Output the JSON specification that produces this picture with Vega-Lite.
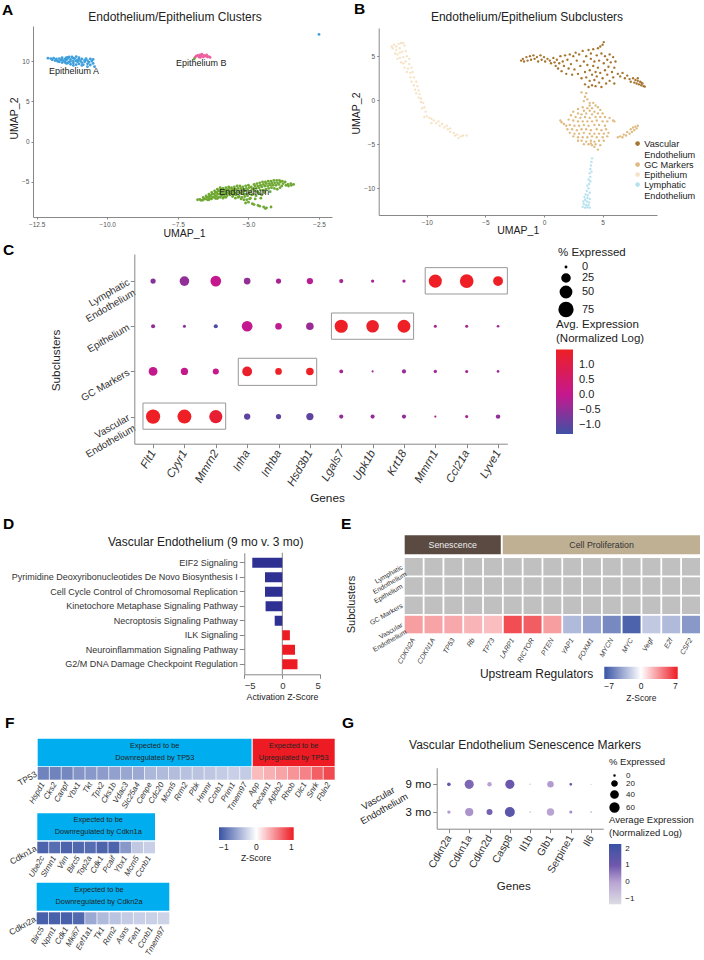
{"$schema":"https://vega.github.io/schema/vega-lite/v6.json","width":704,"height":960,"padding":0,"autosize":{"type":"none"},"background":"white",
"config":{"font":"Liberation Sans","view":{"stroke":null},"axis":{"grid":false,"labelLimit":400,"titleFontWeight":"normal","titleColor":"#222","labelColor":"#333","domainColor":"#888","tickColor":"#888","titleBaseline":"middle","titleAlign":"center","labelOverlap":false},"legend":{"titleFontWeight":"normal","titleColor":"#222","labelColor":"#222","labelLimit":300,"labelOverlap":false}},
"resolve":{"scale":{"x":"independent","y":"independent","color":"independent","size":"independent"}},
"layer":[
{"encoding":{"x":{"field":"x","type":"quantitative","scale":{"domain":[-12.63,-2.04],"range":[33,332],"nice":false,"zero":false},"axis":{"orient":"bottom","offset":-743,"values":[-12.5,-10,-7.5,-5,-2.5],"format":".1f","title":"UMAP_1","titleX":184,"titleY":16,"titleFontSize":10.5,"labelFontSize":6.5,"labelColor":"#555","tickSize":2,"labelPadding":2}},"y":{"field":"y","type":"quantitative","scale":{"domain":[-9.34,14.34],"range":[217,26],"nice":false,"zero":false},"axis":{"orient":"left","offset":-33,"values":[-5,0,5,10],"title":"UMAP_2","titleX":-19,"titleY":118,"titleFontSize":10.5,"labelFontSize":6.5,"labelColor":"#555","tickSize":2,"labelPadding":2}}},
"layer":[
{"data":{"values":[
{"x":-12.1,"y":10.35,"c":"A"},{"x":-12.0,"y":10.3,"c":"A"},{"x":-11.95,"y":10.15,"c":"A"},{"x":-11.9,"y":10.35,"c":"A"},{"x":-11.85,"y":10.05,"c":"A"},{"x":-11.8,"y":10.25,"c":"A"},{"x":-11.75,"y":9.95,"c":"A"},{"x":-11.7,"y":10.3,"c":"A"},{"x":-11.65,"y":10.1,"c":"A"},{"x":-11.6,"y":9.8,"c":"A"},{"x":-11.6,"y":10.4,"c":"A"},{"x":-11.55,"y":10.0,"c":"A"},{"x":-11.5,"y":10.25,"c":"A"},{"x":-11.45,"y":9.7,"c":"A"},{"x":-11.45,"y":10.1,"c":"A"},{"x":-11.4,"y":10.45,"c":"A"},{"x":-11.35,"y":9.9,"c":"A"},{"x":-11.3,"y":10.2,"c":"A"},{"x":-11.3,"y":9.6,"c":"A"},{"x":-11.25,"y":10.5,"c":"A"},{"x":-11.2,"y":10.0,"c":"A"},{"x":-11.2,"y":9.75,"c":"A"},{"x":-11.15,"y":10.3,"c":"A"},{"x":-11.1,"y":9.55,"c":"A"},{"x":-11.1,"y":10.55,"c":"A"},{"x":-11.05,"y":9.9,"c":"A"},{"x":-11.05,"y":10.15,"c":"A"},{"x":-11.0,"y":10.4,"c":"A"},{"x":-11.0,"y":9.65,"c":"A"},{"x":-10.95,"y":10.0,"c":"A"},{"x":-10.9,"y":9.8,"c":"A"},{"x":-10.9,"y":10.25,"c":"A"},{"x":-10.85,"y":9.55,"c":"A"},{"x":-10.8,"y":10.1,"c":"A"},{"x":-10.8,"y":9.9,"c":"A"},{"x":-10.75,"y":10.3,"c":"A"},{"x":-10.7,"y":9.65,"c":"A"},{"x":-10.7,"y":10.05,"c":"A"},{"x":-10.65,"y":9.85,"c":"A"},{"x":-10.6,"y":10.25,"c":"A"},{"x":-10.6,"y":9.5,"c":"A"},{"x":-10.55,"y":10.0,"c":"A"},{"x":-10.5,"y":9.7,"c":"A"},{"x":-10.5,"y":10.2,"c":"A"},{"x":-10.45,"y":9.3,"c":"A"},{"x":-10.7,"y":9.3,"c":"A"},{"x":-10.9,"y":9.45,"c":"A"},{"x":-11.2,"y":9.45,"c":"A"},{"x":-11.4,"y":10.3,"c":"A"},{"x":-11.6,"y":10.2,"c":"A"},{"x":-11.7,"y":9.9,"c":"A"},{"x":-11.5,"y":9.85,"c":"A"},{"x":-11.3,"y":9.95,"c":"A"},{"x":-11.2,"y":10.35,"c":"A"},{"x":-11.4,"y":9.75,"c":"A"},{"x":-11.1,"y":10.0,"c":"A"},{"x":-11.0,"y":10.2,"c":"A"},{"x":-11.45,"y":10.4,"c":"A"},{"x":-11.8,"y":10.1,"c":"A"},{"x":-11.35,"y":10.5,"c":"A"},{"x":-2.5,"y":13.3,"c":"A"},
{"x":-6.89,"y":10.45,"c":"B"},{"x":-6.85,"y":10.6,"c":"B"},{"x":-6.8,"y":10.7,"c":"B"},{"x":-6.75,"y":10.5,"c":"B"},{"x":-6.72,"y":10.75,"c":"B"},{"x":-6.68,"y":10.6,"c":"B"},{"x":-6.65,"y":10.85,"c":"B"},{"x":-6.6,"y":10.5,"c":"B"},{"x":-6.58,"y":10.7,"c":"B"},{"x":-6.52,"y":10.6,"c":"B"},{"x":-6.48,"y":10.75,"c":"B"},{"x":-6.45,"y":10.5,"c":"B"},{"x":-6.4,"y":10.55,"c":"B"},{"x":-6.36,"y":10.45,"c":"B"},{"x":-6.7,"y":10.45,"c":"B"},{"x":-6.92,"y":10.25,"c":"E"},
{"x":-6.8,"y":-7.2,"c":"E"},{"x":-6.72,"y":-7.15,"c":"E"},{"x":-6.68,"y":-7.27,"c":"E"},{"x":-6.6,"y":-6.92,"c":"E"},{"x":-6.57,"y":-7.1,"c":"E"},{"x":-6.62,"y":-7.25,"c":"E"},{"x":-6.5,"y":-6.72,"c":"E"},{"x":-6.47,"y":-6.9,"c":"E"},{"x":-6.52,"y":-7.1,"c":"E"},{"x":-6.45,"y":-7.2,"c":"E"},{"x":-6.4,"y":-6.5,"c":"E"},{"x":-6.38,"y":-6.7,"c":"E"},{"x":-6.42,"y":-6.9,"c":"E"},{"x":-6.36,"y":-7.05,"c":"E"},{"x":-6.4,"y":-7.2,"c":"E"},{"x":-6.3,"y":-6.3,"c":"E"},{"x":-6.28,"y":-6.5,"c":"E"},{"x":-6.33,"y":-6.7,"c":"E"},{"x":-6.27,"y":-6.9,"c":"E"},{"x":-6.31,"y":-7.1,"c":"E"},{"x":-6.2,"y":-6.1,"c":"E"},{"x":-6.17,"y":-6.3,"c":"E"},{"x":-6.22,"y":-6.5,"c":"E"},{"x":-6.18,"y":-6.7,"c":"E"},{"x":-6.23,"y":-6.9,"c":"E"},{"x":-6.16,"y":-7.05,"c":"E"},{"x":-6.1,"y":-5.9,"c":"E"},{"x":-6.07,"y":-6.1,"c":"E"},{"x":-6.12,"y":-6.3,"c":"E"},{"x":-6.08,"y":-6.5,"c":"E"},{"x":-6.13,"y":-6.7,"c":"E"},{"x":-6.06,"y":-6.9,"c":"E"},{"x":-6.1,"y":-7.05,"c":"E"},{"x":-6.0,"y":-5.7,"c":"E"},{"x":-5.97,"y":-5.9,"c":"E"},{"x":-6.02,"y":-6.1,"c":"E"},{"x":-5.98,"y":-6.3,"c":"E"},{"x":-6.03,"y":-6.5,"c":"E"},{"x":-5.96,"y":-6.7,"c":"E"},{"x":-6.0,"y":-6.9,"c":"E"},{"x":-5.9,"y":-5.8,"c":"E"},{"x":-5.87,"y":-6.0,"c":"E"},{"x":-5.92,"y":-6.2,"c":"E"},{"x":-5.88,"y":-6.4,"c":"E"},{"x":-5.93,"y":-6.6,"c":"E"},{"x":-5.86,"y":-6.8,"c":"E"},{"x":-5.9,"y":-7.0,"c":"E"},{"x":-5.8,"y":-5.7,"c":"E"},{"x":-5.77,"y":-5.9,"c":"E"},{"x":-5.82,"y":-6.1,"c":"E"},{"x":-5.78,"y":-6.3,"c":"E"},{"x":-5.83,"y":-6.5,"c":"E"},{"x":-5.76,"y":-6.7,"c":"E"},{"x":-5.8,"y":-6.9,"c":"E"},{"x":-5.7,"y":-5.6,"c":"E"},{"x":-5.67,"y":-5.8,"c":"E"},{"x":-5.72,"y":-6.0,"c":"E"},{"x":-5.68,"y":-6.2,"c":"E"},{"x":-5.73,"y":-6.4,"c":"E"},{"x":-5.66,"y":-6.6,"c":"E"},{"x":-5.6,"y":-5.7,"c":"E"},{"x":-5.57,"y":-5.9,"c":"E"},{"x":-5.62,"y":-6.1,"c":"E"},{"x":-5.58,"y":-6.3,"c":"E"},{"x":-5.63,"y":-6.5,"c":"E"},{"x":-5.56,"y":-6.8,"c":"E"},{"x":-5.5,"y":-5.6,"c":"E"},{"x":-5.47,"y":-5.85,"c":"E"},{"x":-5.52,"y":-6.1,"c":"E"},{"x":-5.48,"y":-6.35,"c":"E"},{"x":-5.53,"y":-6.6,"c":"E"},{"x":-5.46,"y":-7.0,"c":"E"},{"x":-5.4,"y":-5.5,"c":"E"},{"x":-5.37,"y":-5.8,"c":"E"},{"x":-5.42,"y":-6.0,"c":"E"},{"x":-5.38,"y":-6.3,"c":"E"},{"x":-5.43,"y":-6.6,"c":"E"},{"x":-5.36,"y":-6.9,"c":"E"},{"x":-5.3,"y":-5.5,"c":"E"},{"x":-5.27,"y":-5.8,"c":"E"},{"x":-5.32,"y":-6.1,"c":"E"},{"x":-5.28,"y":-6.4,"c":"E"},{"x":-5.33,"y":-6.8,"c":"E"},{"x":-5.26,"y":-7.1,"c":"E"},{"x":-5.2,"y":-5.6,"c":"E"},{"x":-5.17,"y":-5.9,"c":"E"},{"x":-5.22,"y":-6.2,"c":"E"},{"x":-5.18,"y":-6.5,"c":"E"},{"x":-5.23,"y":-6.9,"c":"E"},{"x":-5.16,"y":-7.2,"c":"E"},{"x":-5.1,"y":-5.5,"c":"E"},{"x":-5.07,"y":-5.8,"c":"E"},{"x":-5.12,"y":-6.1,"c":"E"},{"x":-5.08,"y":-6.5,"c":"E"},{"x":-5.13,"y":-6.8,"c":"E"},{"x":-5.06,"y":-7.2,"c":"E"},{"x":-5.1,"y":-7.6,"c":"E"},{"x":-5.0,"y":-5.4,"c":"E"},{"x":-4.97,"y":-5.7,"c":"E"},{"x":-5.02,"y":-6.0,"c":"E"},{"x":-4.98,"y":-6.4,"c":"E"},{"x":-5.03,"y":-6.7,"c":"E"},{"x":-4.96,"y":-7.1,"c":"E"},{"x":-5.0,"y":-7.5,"c":"E"},{"x":-4.9,"y":-5.6,"c":"E"},{"x":-4.87,"y":-5.9,"c":"E"},{"x":-4.92,"y":-6.2,"c":"E"},{"x":-4.88,"y":-6.6,"c":"E"},{"x":-4.93,"y":-7.0,"c":"E"},{"x":-4.86,"y":-7.7,"c":"E"},{"x":-4.8,"y":-5.3,"c":"E"},{"x":-4.77,"y":-5.5,"c":"E"},{"x":-4.82,"y":-5.8,"c":"E"},{"x":-4.78,"y":-6.1,"c":"E"},{"x":-4.83,"y":-6.5,"c":"E"},{"x":-4.76,"y":-7.1,"c":"E"},{"x":-4.8,"y":-7.8,"c":"E"},{"x":-4.7,"y":-5.2,"c":"E"},{"x":-4.67,"y":-5.5,"c":"E"},{"x":-4.72,"y":-5.8,"c":"E"},{"x":-4.68,"y":-6.2,"c":"E"},{"x":-4.73,"y":-6.7,"c":"E"},{"x":-4.66,"y":-7.9,"c":"E"},{"x":-4.6,"y":-5.1,"c":"E"},{"x":-4.57,"y":-5.4,"c":"E"},{"x":-4.62,"y":-5.7,"c":"E"},{"x":-4.58,"y":-6.0,"c":"E"},{"x":-4.63,"y":-6.4,"c":"E"},{"x":-4.56,"y":-7.0,"c":"E"},{"x":-4.6,"y":-8.0,"c":"E"},{"x":-4.5,"y":-5.0,"c":"E"},{"x":-4.47,"y":-5.3,"c":"E"},{"x":-4.52,"y":-5.6,"c":"E"},{"x":-4.48,"y":-6.0,"c":"E"},{"x":-4.53,"y":-6.6,"c":"E"},{"x":-4.46,"y":-8.1,"c":"E"},{"x":-4.4,"y":-5.0,"c":"E"},{"x":-4.37,"y":-5.2,"c":"E"},{"x":-4.42,"y":-5.5,"c":"E"},{"x":-4.38,"y":-5.9,"c":"E"},{"x":-4.43,"y":-6.3,"c":"E"},{"x":-4.36,"y":-8.2,"c":"E"},{"x":-4.4,"y":-8.3,"c":"E"},{"x":-4.3,"y":-4.9,"c":"E"},{"x":-4.27,"y":-5.2,"c":"E"},{"x":-4.32,"y":-5.5,"c":"E"},{"x":-4.28,"y":-5.8,"c":"E"},{"x":-4.2,"y":-4.9,"c":"E"},{"x":-4.17,"y":-5.15,"c":"E"},{"x":-4.22,"y":-5.4,"c":"E"},{"x":-4.18,"y":-5.7,"c":"E"},{"x":-4.23,"y":-6.2,"c":"E"},{"x":-4.2,"y":-8.1,"c":"E"},{"x":-4.1,"y":-4.8,"c":"E"},{"x":-4.07,"y":-5.1,"c":"E"},{"x":-4.12,"y":-5.4,"c":"E"},{"x":-4.08,"y":-5.8,"c":"E"},{"x":-4.0,"y":-4.8,"c":"E"},{"x":-3.97,"y":-5.1,"c":"E"},{"x":-4.02,"y":-5.4,"c":"E"},{"x":-3.98,"y":-5.9,"c":"E"},{"x":-3.9,"y":-4.8,"c":"E"},{"x":-3.87,"y":-5.0,"c":"E"},{"x":-3.92,"y":-5.3,"c":"E"},{"x":-3.88,"y":-5.7,"c":"E"},{"x":-3.8,"y":-4.9,"c":"E"},{"x":-3.77,"y":-5.2,"c":"E"},{"x":-3.82,"y":-5.5,"c":"E"},{"x":-3.7,"y":-5.0,"c":"E"},{"x":-3.67,"y":-5.4,"c":"E"},{"x":-3.6,"y":-5.3,"c":"E"},{"x":-3.58,"y":-5.5,"c":"E"},{"x":-3.5,"y":-5.2,"c":"E"},{"x":-3.48,"y":-5.4,"c":"E"},{"x":-3.4,"y":-5.3,"c":"E"}
]},"mark":{"type":"circle","size":8,"opacity":1},"encoding":{"color":{"field":"c","type":"nominal","scale":{"domain":["A","B","E"],"range":["#3fa0dc","#ee5f9f","#6fa832"]},"legend":null}}},
{"data":{"values":[{"t":"Epithelium A","x":-11.18,"y":8.76},{"t":"Epithelium B","x":-6.67,"y":9.79},{"t":"Endothelium","x":-5.15,"y":-6.2}]},"mark":{"type":"text","fontSize":9,"color":"#222"},"encoding":{"text":{"field":"t","type":"nominal"}}},
{"data":{"values":[{"t":"Endothelium/Epithelium Clusters","x":-7.6,"y":15.45}]},"mark":{"type":"text","fontSize":12,"color":"#222"},"encoding":{"text":{"field":"t","type":"nominal"}}},
{"data":{"values":[{"t":"A","x":-13.73,"y":16.3}]},"mark":{"type":"text","fontSize":15.5,"fontWeight":"bold","align":"left","color":"#000"},"encoding":{"text":{"field":"t","type":"nominal"}}}
]},
{"encoding":{"x":{"field":"x","type":"quantitative","scale":{"domain":[-14.1,9.64],"range":[378.7,657],"nice":false,"zero":false},"axis":{"orient":"bottom","offset":-745,"values":[-10,-5,0,5],"title":"UMAP_1","titleX":517.7,"titleY":15.7,"titleFontSize":10.5,"labelFontSize":6.5,"labelColor":"#555","tickSize":2,"labelPadding":2}},"y":{"field":"y","type":"quantitative","scale":{"domain":[-13.03,8.2],"range":[215,28],"nice":false,"zero":false},"axis":{"orient":"left","offset":-378.7,"values":[-10,-5,0,5],"title":"UMAP_2","titleX":-22.7,"titleY":113,"titleFontSize":10.5,"labelFontSize":6.5,"labelColor":"#555","tickSize":2,"labelPadding":2}}},
"layer":[
{"data":{"values":[
{"x":-1.95,"y":4.5,"c":"V"},{"x":-1.8,"y":4.7,"c":"V"},{"x":-1.7,"y":4.4,"c":"V"},{"x":-1.5,"y":4.9,"c":"V"},{"x":-1.4,"y":4.5,"c":"V"},{"x":-1.2,"y":5.0,"c":"V"},{"x":-1.1,"y":4.6,"c":"V"},{"x":-0.9,"y":5.1,"c":"V"},{"x":-0.8,"y":4.7,"c":"V"},{"x":-0.6,"y":4.9,"c":"V"},{"x":-0.5,"y":4.4,"c":"V"},{"x":-0.3,"y":5.1,"c":"V"},{"x":-0.2,"y":4.6,"c":"V"},{"x":0,"y":4.9,"c":"V"},{"x":0.1,"y":4.4,"c":"V"},{"x":0.3,"y":4.7,"c":"V"},{"x":0.5,"y":4.5,"c":"V"},{"x":0.6,"y":4.2,"c":"V"},{"x":0.8,"y":4.8,"c":"V"},{"x":0.9,"y":4.3,"c":"V"},{"x":1.0,"y":3.9,"c":"V"},{"x":1.1,"y":4.6,"c":"V"},{"x":1.2,"y":3.6,"c":"V"},{"x":1.3,"y":4.2,"c":"V"},{"x":1.4,"y":5.0,"c":"V"},{"x":1.5,"y":3.3,"c":"V"},{"x":1.6,"y":4.4,"c":"V"},{"x":1.7,"y":3.9,"c":"V"},{"x":1.8,"y":5.1,"c":"V"},{"x":1.9,"y":3.0,"c":"V"},{"x":2.0,"y":4.6,"c":"V"},{"x":2.1,"y":3.6,"c":"V"},{"x":2.2,"y":5.2,"c":"V"},{"x":2.3,"y":4.1,"c":"V"},{"x":2.4,"y":2.9,"c":"V"},{"x":2.5,"y":5.0,"c":"V"},{"x":2.6,"y":3.5,"c":"V"},{"x":2.7,"y":5.4,"c":"V"},{"x":2.8,"y":4.5,"c":"V"},{"x":2.9,"y":3.0,"c":"V"},{"x":3.0,"y":5.2,"c":"V"},{"x":3.1,"y":3.9,"c":"V"},{"x":3.2,"y":2.5,"c":"V"},{"x":3.3,"y":5.6,"c":"V"},{"x":3.4,"y":4.4,"c":"V"},{"x":3.5,"y":3.2,"c":"V"},{"x":3.5,"y":1.8,"c":"V"},{"x":3.6,"y":5.0,"c":"V"},{"x":3.6,"y":2.6,"c":"V"},{"x":3.7,"y":4.0,"c":"V"},{"x":3.8,"y":5.7,"c":"V"},{"x":3.8,"y":1.5,"c":"V"},{"x":3.9,"y":3.4,"c":"V"},{"x":3.9,"y":2.2,"c":"V"},{"x":4.0,"y":4.7,"c":"V"},{"x":4.0,"y":5.3,"c":"V"},{"x":4.1,"y":1.7,"c":"V"},{"x":4.1,"y":2.9,"c":"V"},{"x":4.2,"y":3.9,"c":"V"},{"x":4.2,"y":5.8,"c":"V"},{"x":4.3,"y":2.3,"c":"V"},{"x":4.3,"y":4.4,"c":"V"},{"x":4.4,"y":3.2,"c":"V"},{"x":4.4,"y":1.6,"c":"V"},{"x":4.5,"y":5.1,"c":"V"},{"x":4.5,"y":2.7,"c":"V"},{"x":4.6,"y":5.9,"c":"V"},{"x":4.6,"y":3.7,"c":"V"},{"x":4.7,"y":4.5,"c":"V"},{"x":4.7,"y":2.0,"c":"V"},{"x":4.8,"y":6.1,"c":"V"},{"x":4.8,"y":3.1,"c":"V"},{"x":4.9,"y":5.3,"c":"V"},{"x":4.9,"y":1.5,"c":"V"},{"x":5.0,"y":6.3,"c":"V"},{"x":5.0,"y":2.5,"c":"V"},{"x":5.1,"y":6.6,"c":"V"},{"x":5.1,"y":4.2,"c":"V"},{"x":5.2,"y":3.4,"c":"V"},{"x":5.2,"y":5.0,"c":"V"},{"x":5.3,"y":1.9,"c":"V"},{"x":5.4,"y":4.6,"c":"V"},{"x":5.4,"y":2.9,"c":"V"},{"x":5.5,"y":3.8,"c":"V"},{"x":5.6,"y":5.2,"c":"V"},{"x":5.6,"y":2.2,"c":"V"},{"x":5.7,"y":4.3,"c":"V"},{"x":5.8,"y":3.2,"c":"V"},{"x":5.9,"y":4.9,"c":"V"},{"x":5.9,"y":2.6,"c":"V"},{"x":6.0,"y":3.7,"c":"V"},{"x":6.0,"y":1.9,"c":"V"},{"x":6.1,"y":4.4,"c":"V"},{"x":6.3,"y":3.0,"c":"V"},{"x":6.5,"y":2.7,"c":"V"},{"x":6.7,"y":3.1,"c":"V"},{"x":6.9,"y":2.5,"c":"V"},{"x":7.1,"y":2.8,"c":"V"},{"x":7.3,"y":2.4,"c":"V"},{"x":7.4,"y":2.1,"c":"V"},{"x":7.6,"y":2.5,"c":"V"},{"x":7.7,"y":2.0,"c":"V"},{"x":7.8,"y":2.3,"c":"V"},{"x":7.9,"y":1.9,"c":"V"},{"x":8.0,"y":2.2,"c":"V"},{"x":8.1,"y":1.8,"c":"V"},{"x":8.2,"y":2.1,"c":"V"},{"x":8.3,"y":1.7,"c":"V"},{"x":8.4,"y":1.9,"c":"V"},{"x":8.5,"y":1.6,"c":"V"},{"x":8.6,"y":1.55,"c":"V"},{"x":8.0,"y":2.5,"c":"V"},{"x":8.3,"y":2.0,"c":"V"},
{"x":3.2,"y":0.9,"c":"G"},{"x":3.6,"y":0.8,"c":"G"},{"x":3.5,"y":0.4,"c":"G"},{"x":3.7,"y":0.1,"c":"G"},{"x":3.4,"y":-0.1,"c":"G"},{"x":3.9,"y":-0.3,"c":"G"},{"x":4.2,"y":-0.3,"c":"G"},{"x":3.9,"y":-0.6,"c":"G"},{"x":4.4,"y":-0.6,"c":"G"},{"x":3.3,"y":-0.8,"c":"G"},{"x":3.7,"y":-0.9,"c":"G"},{"x":4.1,"y":-0.9,"c":"G"},{"x":4.6,"y":-0.8,"c":"G"},{"x":2.9,"y":-1,"c":"G"},{"x":3.4,"y":-1.2,"c":"G"},{"x":3.9,"y":-1.2,"c":"G"},{"x":4.3,"y":-1.3,"c":"G"},{"x":4.8,"y":-1.1,"c":"G"},{"x":2.5,"y":-1.3,"c":"G"},{"x":2.9,"y":-1.5,"c":"G"},{"x":3.2,"y":-1.6,"c":"G"},{"x":3.6,"y":-1.5,"c":"G"},{"x":4.1,"y":-1.6,"c":"G"},{"x":4.6,"y":-1.5,"c":"G"},{"x":5.0,"y":-1.5,"c":"G"},{"x":2.3,"y":-1.7,"c":"G"},{"x":2.7,"y":-1.9,"c":"G"},{"x":3.1,"y":-2.0,"c":"G"},{"x":3.5,"y":-1.9,"c":"G"},{"x":3.9,"y":-2.0,"c":"G"},{"x":4.4,"y":-1.9,"c":"G"},{"x":4.8,"y":-1.9,"c":"G"},{"x":5.2,"y":-1.9,"c":"G"},{"x":5.6,"y":-2.0,"c":"G"},{"x":5.9,"y":-2.3,"c":"G"},{"x":6.0,"y":-2.4,"c":"G"},{"x":1.4,"y":-2.3,"c":"G"},{"x":1.5,"y":-2.5,"c":"G"},{"x":1.7,"y":-2.7,"c":"G"},{"x":2.1,"y":-2.2,"c":"G"},{"x":2.5,"y":-2.3,"c":"G"},{"x":2.9,"y":-2.4,"c":"G"},{"x":3.3,"y":-2.4,"c":"G"},{"x":3.7,"y":-2.4,"c":"G"},{"x":4.1,"y":-2.4,"c":"G"},{"x":4.5,"y":-2.3,"c":"G"},{"x":5.0,"y":-2.4,"c":"G"},{"x":5.4,"y":-2.4,"c":"G"},{"x":1.9,"y":-2.9,"c":"G"},{"x":2.2,"y":-2.8,"c":"G"},{"x":2.6,"y":-2.9,"c":"G"},{"x":3.0,"y":-2.9,"c":"G"},{"x":3.4,"y":-2.8,"c":"G"},{"x":3.8,"y":-2.9,"c":"G"},{"x":4.3,"y":-2.8,"c":"G"},{"x":4.7,"y":-2.8,"c":"G"},{"x":5.2,"y":-2.9,"c":"G"},{"x":2.0,"y":-3.3,"c":"G"},{"x":2.4,"y":-3.3,"c":"G"},{"x":2.8,"y":-3.4,"c":"G"},{"x":3.2,"y":-3.3,"c":"G"},{"x":3.6,"y":-3.3,"c":"G"},{"x":4.0,"y":-3.4,"c":"G"},{"x":4.5,"y":-3.3,"c":"G"},{"x":4.9,"y":-3.4,"c":"G"},{"x":5.3,"y":-3.3,"c":"G"},{"x":2.2,"y":-3.7,"c":"G"},{"x":2.6,"y":-3.8,"c":"G"},{"x":3.0,"y":-3.8,"c":"G"},{"x":3.4,"y":-3.7,"c":"G"},{"x":3.9,"y":-3.8,"c":"G"},{"x":4.3,"y":-3.8,"c":"G"},{"x":4.7,"y":-3.8,"c":"G"},{"x":5.1,"y":-3.8,"c":"G"},{"x":5.5,"y":-3.7,"c":"G"},{"x":2.5,"y":-4.1,"c":"G"},{"x":2.9,"y":-4.2,"c":"G"},{"x":3.3,"y":-4.2,"c":"G"},{"x":3.7,"y":-4.2,"c":"G"},{"x":4.1,"y":-4.1,"c":"G"},{"x":4.5,"y":-4.2,"c":"G"},{"x":5.0,"y":-4.2,"c":"G"},{"x":5.4,"y":-4.1,"c":"G"},{"x":2.9,"y":-4.6,"c":"G"},{"x":3.2,"y":-4.6,"c":"G"},{"x":3.6,"y":-4.7,"c":"G"},{"x":4.0,"y":-4.6,"c":"G"},{"x":4.3,"y":-4.7,"c":"G"},{"x":4.7,"y":-4.6,"c":"G"},{"x":5.1,"y":-4.6,"c":"G"},{"x":3.4,"y":-5.0,"c":"G"},{"x":3.8,"y":-5.0,"c":"G"},{"x":4.1,"y":-5.1,"c":"G"},{"x":4.4,"y":-5.0,"c":"G"},{"x":4.8,"y":-5.1,"c":"G"},{"x":4.3,"y":-5.3,"c":"G"},{"x":4.6,"y":-5.6,"c":"G"},{"x":4.0,"y":-4.9,"c":"G"},{"x":6.3,"y":-4.2,"c":"G"},{"x":6.5,"y":-4.1,"c":"G"},{"x":6.7,"y":-4.2,"c":"G"},{"x":6.8,"y":-3.9,"c":"G"},{"x":7.0,"y":-4.0,"c":"G"},{"x":7.1,"y":-3.6,"c":"G"},{"x":7.3,"y":-3.8,"c":"G"},{"x":7.4,"y":-3.3,"c":"G"},{"x":7.5,"y":-3.6,"c":"G"},{"x":7.7,"y":-3.4,"c":"G"},{"x":7.8,"y":-3.0,"c":"G"},{"x":7.9,"y":-3.2,"c":"G"},{"x":8.0,"y":-2.9,"c":"G"},{"x":7.6,"y":-3.1,"c":"G"},
{"x":-13,"y":6.1,"c":"E"},{"x":-12.9,"y":5.9,"c":"E"},{"x":-12.8,"y":6.3,"c":"E"},{"x":-12.6,"y":5.7,"c":"E"},{"x":-12.6,"y":6.1,"c":"E"},{"x":-12.4,"y":6.4,"c":"E"},{"x":-12.3,"y":5.9,"c":"E"},{"x":-12.2,"y":6.5,"c":"E"},{"x":-12,"y":6.5,"c":"E"},{"x":-11.9,"y":6.2,"c":"E"},{"x":-12.7,"y":5.3,"c":"E"},{"x":-12.5,"y":5.2,"c":"E"},{"x":-12.3,"y":5.4,"c":"E"},{"x":-12.1,"y":5.5,"c":"E"},{"x":-11.8,"y":5.6,"c":"E"},{"x":-12.5,"y":4.7,"c":"E"},{"x":-12.3,"y":4.8,"c":"E"},{"x":-12,"y":4.9,"c":"E"},{"x":-11.7,"y":5.0,"c":"E"},{"x":-11.5,"y":4.7,"c":"E"},{"x":-12.2,"y":4.3,"c":"E"},{"x":-12,"y":4.2,"c":"E"},{"x":-11.8,"y":4.4,"c":"E"},{"x":-11.5,"y":4.1,"c":"E"},{"x":-11.9,"y":3.7,"c":"E"},{"x":-11.6,"y":3.6,"c":"E"},{"x":-11.3,"y":3.7,"c":"E"},{"x":-11.7,"y":3.2,"c":"E"},{"x":-11.4,"y":3.1,"c":"E"},{"x":-11.2,"y":3.2,"c":"E"},{"x":-11.4,"y":2.6,"c":"E"},{"x":-11.1,"y":2.6,"c":"E"},{"x":-11.3,"y":2.1,"c":"E"},{"x":-10.9,"y":2.1,"c":"E"},{"x":-11.1,"y":1.7,"c":"E"},{"x":-10.8,"y":1.6,"c":"E"},{"x":-11,"y":1.2,"c":"E"},{"x":-10.7,"y":1.1,"c":"E"},{"x":-10.6,"y":0.7,"c":"E"},{"x":-10.9,"y":0.8,"c":"E"},{"x":-10.5,"y":0.2,"c":"E"},{"x":-10.7,"y":0.3,"c":"E"},{"x":-10.3,"y":-0.3,"c":"E"},{"x":-10.5,"y":-0.2,"c":"E"},{"x":-10.2,"y":-0.8,"c":"E"},{"x":-10.4,"y":-0.9,"c":"E"},{"x":-10.1,"y":-1.3,"c":"E"},{"x":-10,"y":-1.8,"c":"E"},{"x":-10.2,"y":-1.9,"c":"E"},{"x":-9.8,"y":-2,"c":"E"},{"x":-9.6,"y":-2.1,"c":"E"},{"x":-9.4,"y":-2.3,"c":"E"},{"x":-9.6,"y":-2.6,"c":"E"},{"x":-9.2,"y":-2.6,"c":"E"},{"x":-9,"y":-2.4,"c":"E"},{"x":-8.9,"y":-2.9,"c":"E"},{"x":-8.7,"y":-2.7,"c":"E"},{"x":-8.5,"y":-3.1,"c":"E"},{"x":-8.3,"y":-2.9,"c":"E"},{"x":-8.2,"y":-3.3,"c":"E"},{"x":-8,"y":-3.2,"c":"E"},{"x":-8,"y":-3.6,"c":"E"},{"x":-7.7,"y":-3.7,"c":"E"},{"x":-7.6,"y":-4,"c":"E"},{"x":-7.4,"y":-3.9,"c":"E"},{"x":-7.3,"y":-4.3,"c":"E"},{"x":-7.1,"y":-4.1,"c":"E"},{"x":-6.9,"y":-4,"c":"E"},{"x":-6.6,"y":-4,"c":"E"},
{"x":4.1,"y":-6.6,"c":"L"},{"x":4.05,"y":-7,"c":"L"},{"x":4,"y":-7.4,"c":"L"},{"x":3.95,"y":-7.8,"c":"L"},{"x":4.05,"y":-8.1,"c":"L"},{"x":3.9,"y":-8.3,"c":"L"},{"x":3.95,"y":-8.7,"c":"L"},{"x":3.8,"y":-9,"c":"L"},{"x":3.95,"y":-9.2,"c":"L"},{"x":3.85,"y":-9.5,"c":"L"},{"x":3.7,"y":-9.7,"c":"L"},{"x":3.8,"y":-10,"c":"L"},{"x":3.65,"y":-10.3,"c":"L"},{"x":3.9,"y":-10.5,"c":"L"},{"x":3.55,"y":-10.7,"c":"L"},{"x":3.75,"y":-10.8,"c":"L"},{"x":3.45,"y":-11,"c":"L"},{"x":3.7,"y":-11.1,"c":"L"},{"x":3.9,"y":-11.2,"c":"L"},{"x":3.5,"y":-11.3,"c":"L"},{"x":3.35,"y":-11.5,"c":"L"},{"x":3.65,"y":-11.5,"c":"L"},{"x":3.85,"y":-11.6,"c":"L"},{"x":3.4,"y":-11.8,"c":"L"},{"x":3.6,"y":-11.9,"c":"L"},{"x":3.8,"y":-11.9,"c":"L"},{"x":3.3,"y":-12.1,"c":"L"},{"x":3.5,"y":-12.2,"c":"L"},{"x":3.7,"y":-12.15,"c":"L"},{"x":3.9,"y":-12.2,"c":"L"}
]},"mark":{"type":"circle","size":5.5,"opacity":1},"encoding":{"color":{"field":"c","type":"nominal","scale":{"domain":["V","G","E","L"],"range":["#a6752f","#dfbb80","#f6e3c6","#b5e2ee"]},"legend":{"orient":"none","legendX":633,"legendY":139,"title":null,"symbolType":"circle","symbolSize":22,"labelFontSize":9.2,"labelLineHeight":11.5,"labelOffset":2,"rowPadding":0,"labelExpr":"datum.label=='V'?['Vascular','Endothelium']:datum.label=='G'?'GC Markers':datum.label=='E'?'Epithelium':['Lymphatic','Endothelium']"}}}},
{"data":{"values":[{"t":"Endothelium/Epithelium Subclusters","x":-1.45,"y":9.47}]},"mark":{"type":"text","fontSize":12,"color":"#222"},"encoding":{"text":{"field":"t","type":"nominal"}}},
{"data":{"values":[{"t":"B","x":-16.2,"y":10.37}]},"mark":{"type":"text","fontSize":15.5,"fontWeight":"bold","align":"left","color":"#000"},"encoding":{"text":{"field":"t","type":"nominal"}}}
]},
{"encoding":{"x":{"field":"x","type":"quantitative","scale":{"domain":[-0.596,11.298],"range":[134.3,507.3],"nice":false,"zero":false},"axis":null},"y":{"field":"y","type":"quantitative","scale":{"domain":[-0.597,3.6],"range":[254,443.7],"nice":false,"zero":false},"axis":null}},
"layer":[
{"data":{"values":[{"x":-0.32,"x2":2.318,"y":2.7,"y2":3.28},{"x":2.72,"x2":5.22,"y":1.71,"y2":2.31},{"x":5.69,"x2":8.31,"y":0.708,"y2":1.29},{"x":8.68,"x2":11.3,"y":-0.295,"y2":0.288}]},"mark":{"type":"rect","fillOpacity":0,"stroke":"#999","strokeWidth":1},"encoding":{"x2":{"field":"x2"},"y2":{"field":"y2"}}},
{"data":{"values":[{"t":"C","x":-4.78,"y":-0.686}]},"mark":{"type":"text","fontSize":15.5,"fontWeight":"bold","align":"left","color":"#000"},"encoding":{"text":{"field":"t","type":"nominal"}}}
]},
{"data":{"values":[
{"gene":"Flt1","sub":"Lymphatic Endothelium","pct":10,"expr":-0.6},{"gene":"Cyyr1","sub":"Lymphatic Endothelium","pct":36,"expr":-0.5},{"gene":"Mmrn2","sub":"Lymphatic Endothelium","pct":45,"expr":0},{"gene":"Inha","sub":"Lymphatic Endothelium","pct":17,"expr":-0.5},{"gene":"Inhba","sub":"Lymphatic Endothelium","pct":10,"expr":-0.25},{"gene":"Hsd3b1","sub":"Lymphatic Endothelium","pct":15,"expr":-0.15},{"gene":"Lgals7","sub":"Lymphatic Endothelium","pct":6,"expr":-0.3},{"gene":"Upk1b","sub":"Lymphatic Endothelium","pct":3.5,"expr":-0.3},{"gene":"Krt18","sub":"Lymphatic Endothelium","pct":3.5,"expr":-0.3},{"gene":"Mmrn1","sub":"Lymphatic Endothelium","pct":68,"expr":1.5},{"gene":"Ccl21a","sub":"Lymphatic Endothelium","pct":74,"expr":1.5},{"gene":"Lyve1","sub":"Lymphatic Endothelium","pct":38,"expr":1.5},
{"gene":"Flt1","sub":"Epithelium","pct":6,"expr":-0.5},{"gene":"Cyyr1","sub":"Epithelium","pct":3,"expr":-0.6},{"gene":"Mmrn2","sub":"Epithelium","pct":6,"expr":-1.2},{"gene":"Inha","sub":"Epithelium","pct":45,"expr":0},{"gene":"Inhba","sub":"Epithelium","pct":17,"expr":-0.05},{"gene":"Hsd3b1","sub":"Epithelium","pct":22,"expr":-0.4},{"gene":"Lgals7","sub":"Epithelium","pct":68,"expr":1.5},{"gene":"Upk1b","sub":"Epithelium","pct":62,"expr":1.45},{"gene":"Krt18","sub":"Epithelium","pct":65,"expr":1.5},{"gene":"Mmrn1","sub":"Epithelium","pct":3,"expr":-0.3},{"gene":"Ccl21a","sub":"Epithelium","pct":3,"expr":-0.3},{"gene":"Lyve1","sub":"Epithelium","pct":2,"expr":-0.3},
{"gene":"Flt1","sub":"GC Markers","pct":30,"expr":0},{"gene":"Cyyr1","sub":"GC Markers","pct":20,"expr":0.05},{"gene":"Mmrn2","sub":"GC Markers","pct":14,"expr":0.1},{"gene":"Inha","sub":"GC Markers","pct":38,"expr":1.4},{"gene":"Inhba","sub":"GC Markers","pct":17,"expr":1.5},{"gene":"Hsd3b1","sub":"GC Markers","pct":22,"expr":1.5},{"gene":"Lgals7","sub":"GC Markers","pct":5,"expr":-0.3},{"gene":"Upk1b","sub":"GC Markers","pct":1,"expr":-0.3},{"gene":"Krt18","sub":"GC Markers","pct":6,"expr":-0.4},{"gene":"Mmrn1","sub":"GC Markers","pct":3.5,"expr":-0.3},{"gene":"Ccl21a","sub":"GC Markers","pct":3,"expr":-0.3},{"gene":"Lyve1","sub":"GC Markers","pct":2,"expr":-0.3},
{"gene":"Flt1","sub":"Vascular Endothelium","pct":80,"expr":1.5},{"gene":"Cyyr1","sub":"Vascular Endothelium","pct":77,"expr":1.5},{"gene":"Mmrn2","sub":"Vascular Endothelium","pct":68,"expr":1.3},{"gene":"Inha","sub":"Vascular Endothelium","pct":15,"expr":-1},{"gene":"Inhba","sub":"Vascular Endothelium","pct":10,"expr":-1},{"gene":"Hsd3b1","sub":"Vascular Endothelium","pct":20,"expr":-1},{"gene":"Lgals7","sub":"Vascular Endothelium","pct":6,"expr":-0.5},{"gene":"Upk1b","sub":"Vascular Endothelium","pct":6,"expr":-0.5},{"gene":"Krt18","sub":"Vascular Endothelium","pct":6,"expr":-0.5},{"gene":"Mmrn1","sub":"Vascular Endothelium","pct":1.2,"expr":-0.2},{"gene":"Ccl21a","sub":"Vascular Endothelium","pct":3,"expr":-0.3},{"gene":"Lyve1","sub":"Vascular Endothelium","pct":7,"expr":-0.5}
]},"mark":{"type":"circle","opacity":1},"encoding":{
"x":{"field":"gene","type":"nominal","sort":null,"scale":{"type":"point","range":[134.3,507.3],"padding":0.447,"align":0.67},"axis":{"orient":"bottom","offset":-516.3,"labelAngle":-60,"labelAlign":"right","labelBaseline":"middle","labelFontSize":11.5,"labelFontStyle":"italic","tickSize":4,"labelPadding":3,"title":"Genes","titleX":327,"titleY":53.3,"titleFontSize":11.8}},
"y":{"field":"sub","type":"nominal","sort":null,"scale":{"type":"point","range":[254,443.7],"padding":0.6},"axis":{"orient":"left","offset":-134.3,"labelAngle":-30,"labelAlign":"right","labelBaseline":"middle","labelFontSize":10,"labelLineHeight":12,"tickSize":4,"labelPadding":2,"labelExpr":"indexof(datum.label,'Endothelium')>=0?split(datum.label,' '):datum.label","encode":{"labels":{"update":{"dy":{"signal":"indexof(datum.label,'Endothelium')>=0?-6:0"}}}},"title":"Subclusters","titleX":-79.3,"titleY":360,"titleFontSize":11.8}},
"size":{"field":"pct","type":"quantitative","scale":{"domain":[0,75],"range":[2,190],"zero":false},"legend":{"orient":"none","legendX":558,"legendY":247,"title":"% Expressed","type":"symbol","values":[0,25,50,75],"symbolFillColor":"#000","symbolStrokeColor":"#000","symbolOpacity":1,"titleFontSize":11.5,"labelFontSize":11,"rowPadding":-3,"titlePadding":3,"labelOffset":8}},
"color":{"field":"expr","type":"quantitative","scale":{"domain":[-1.3,0,1.51],"range":["#3f51a5","#c4188f","#ee2024"],"interpolate":"rgb"},"legend":{"orient":"none","legendX":556,"legendY":319,"title":["Avg. Expression","(Normalized Log)"],"type":"gradient","values":[-1,-0.5,0,0.5,1],"format":".1f","gradientLength":84.6,"gradientThickness":17,"titleFontSize":11.5,"titleLineHeight":14,"labelFontSize":11,"titlePadding":5,"labelOffset":6}}}},
{"encoding":{"x":{"field":"x","type":"quantitative","scale":{"domain":[-5,5],"range":[244.3,320.3],"nice":false,"zero":false},"axis":null},"y":{"field":"y","type":"quantitative","scale":{"domain":[0,1],"range":[674.3,552.7],"nice":false,"zero":false},"axis":null}},
"layer":[
{"data":{"values":[{"x":0,"y":0,"y2":1}]},"mark":{"type":"rule","color":"#888","strokeWidth":1},"encoding":{"y2":{"field":"y2"}}},
{"data":{"values":[{"t":"Vascular Endothelium (9 mo v. 3 mo)","x":-10.08,"y":1.09}]},"mark":{"type":"text","fontSize":12,"color":"#222"},"encoding":{"text":{"field":"t","type":"nominal"}}},
{"data":{"values":[{"t":"D","x":-36.75,"y":1.236}]},"mark":{"type":"text","fontSize":15.5,"fontWeight":"bold","align":"left","color":"#000"},"encoding":{"text":{"field":"t","type":"nominal"}}}
]},
{"data":{"values":[{"path":"EIF2 Signaling","z":-3.95},{"path":"Pyrimidine Deoxyribonucleotides De Novo Biosynthesis I","z":-2.28},{"path":"Cell Cycle Control of Chromosomal Replication","z":-2.28},{"path":"Kinetochore Metaphase Signaling Pathway","z":-2.2},{"path":"Necroptosis Signaling Pathway","z":-1},{"path":"ILK Signaling","z":1},{"path":"Neuroinflammation Signaling Pathway","z":1.67},{"path":"G2/M DNA Damage Checkpoint Regulation","z":2}]},
"mark":{"type":"bar"},"encoding":{
"x":{"field":"z","type":"quantitative","stack":null,"scale":{"domain":[-5,5],"range":[244.3,320.3],"nice":false},"axis":{"orient":"bottom","offset":-285.7,"values":[-5,0,5],"labelFontSize":9.5,"tickSize":4,"labelPadding":2,"title":"Activation Z-Score","titleX":282,"titleY":21.7,"titleFontSize":8.8}},
"y":{"field":"path","type":"nominal","sort":null,"scale":{"type":"band","range":[552.7,674.3],"paddingInner":0.31,"paddingOuter":0.348},"axis":{"orient":"left","offset":-244.3,"labelFontSize":9,"tickSize":5,"labelPadding":2,"title":null}},
"color":{"condition":{"test":"datum.z<0","value":"#2e3192"},"value":"#ed1c24"}}},
{"encoding":{"x":{"field":"x","type":"quantitative","scale":{"domain":[0,15],"range":[404.7,700],"nice":false,"zero":false},"axis":null},"y":{"field":"y","type":"quantitative","scale":{"domain":[0,1],"range":[554.3,535.3],"nice":false,"zero":false},"axis":null}},
"layer":[
{"data":{"values":[{"group":"Senescence","x":0,"x2":4.88,"y":0,"y2":1},{"group":"Cell Proliferation","x":4.98,"x2":15,"y":0,"y2":1}]},"mark":{"type":"rect"},"encoding":{"x2":{"field":"x2"},"y2":{"field":"y2"},"color":{"field":"group","type":"nominal","scale":{"domain":["Senescence","Cell Proliferation"],"range":["#5a4a42","#bfb094"]},"legend":null}}},
{"data":{"values":[{"t":"Senescence","x":2.44,"y":0.5}]},"mark":{"type":"text","fontSize":8.8,"color":"#eeeeee"},"encoding":{"text":{"field":"t","type":"nominal"}}},
{"data":{"values":[{"t":"Cell Proliferation","x":10,"y":0.5}]},"mark":{"type":"text","fontSize":8.8,"color":"#333333"},"encoding":{"text":{"field":"t","type":"nominal"}}},
{"data":{"values":[{"t":"Upstream Regulators","x":6.7,"y":-6.3}]},"mark":{"type":"text","fontSize":12,"color":"#222"},"encoding":{"text":{"field":"t","type":"nominal"}}},
{"data":{"values":[{"t":"E","x":-3.235,"y":1.595}]},"mark":{"type":"text","fontSize":15.5,"fontWeight":"bold","align":"left","color":"#000"},"encoding":{"text":{"field":"t","type":"nominal"}}}
]},
{"data":{"values":[
{"gene":"CDKN2A","sub":"Lymphatic Endothelium"},{"gene":"CDKN1A","sub":"Lymphatic Endothelium"},{"gene":"TP53","sub":"Lymphatic Endothelium"},{"gene":"Rb","sub":"Lymphatic Endothelium"},{"gene":"TP73","sub":"Lymphatic Endothelium"},{"gene":"LARP1","sub":"Lymphatic Endothelium"},{"gene":"RICTOR","sub":"Lymphatic Endothelium"},{"gene":"PTEN","sub":"Lymphatic Endothelium"},{"gene":"YAP1","sub":"Lymphatic Endothelium"},{"gene":"FOXM1","sub":"Lymphatic Endothelium"},{"gene":"MYCN","sub":"Lymphatic Endothelium"},{"gene":"MYC","sub":"Lymphatic Endothelium"},{"gene":"Vegf","sub":"Lymphatic Endothelium"},{"gene":"E2f","sub":"Lymphatic Endothelium"},{"gene":"CSF2","sub":"Lymphatic Endothelium"},
{"gene":"CDKN2A","sub":"Epithelium"},{"gene":"CDKN1A","sub":"Epithelium"},{"gene":"TP53","sub":"Epithelium"},{"gene":"Rb","sub":"Epithelium"},{"gene":"TP73","sub":"Epithelium"},{"gene":"LARP1","sub":"Epithelium"},{"gene":"RICTOR","sub":"Epithelium"},{"gene":"PTEN","sub":"Epithelium"},{"gene":"YAP1","sub":"Epithelium"},{"gene":"FOXM1","sub":"Epithelium"},{"gene":"MYCN","sub":"Epithelium"},{"gene":"MYC","sub":"Epithelium"},{"gene":"Vegf","sub":"Epithelium"},{"gene":"E2f","sub":"Epithelium"},{"gene":"CSF2","sub":"Epithelium"},
{"gene":"CDKN2A","sub":"GC Markers"},{"gene":"CDKN1A","sub":"GC Markers"},{"gene":"TP53","sub":"GC Markers"},{"gene":"Rb","sub":"GC Markers"},{"gene":"TP73","sub":"GC Markers"},{"gene":"LARP1","sub":"GC Markers"},{"gene":"RICTOR","sub":"GC Markers"},{"gene":"PTEN","sub":"GC Markers"},{"gene":"YAP1","sub":"GC Markers"},{"gene":"FOXM1","sub":"GC Markers"},{"gene":"MYCN","sub":"GC Markers"},{"gene":"MYC","sub":"GC Markers"},{"gene":"Vegf","sub":"GC Markers"},{"gene":"E2f","sub":"GC Markers"},{"gene":"CSF2","sub":"GC Markers"},
{"gene":"CDKN2A","sub":"Vascular Endothelium","z":3},{"gene":"CDKN1A","sub":"Vascular Endothelium","z":2.8},{"gene":"TP53","sub":"Vascular Endothelium","z":2.7},{"gene":"Rb","sub":"Vascular Endothelium","z":2.3},{"gene":"TP73","sub":"Vascular Endothelium","z":2},{"gene":"LARP1","sub":"Vascular Endothelium","z":5.5},{"gene":"RICTOR","sub":"Vascular Endothelium","z":5},{"gene":"PTEN","sub":"Vascular Endothelium","z":3},{"gene":"YAP1","sub":"Vascular Endothelium","z":-2.8},{"gene":"FOXM1","sub":"Vascular Endothelium","z":-3.7},{"gene":"MYCN","sub":"Vascular Endothelium","z":-4.8},{"gene":"MYC","sub":"Vascular Endothelium","z":-6.3},{"gene":"Vegf","sub":"Vascular Endothelium","z":-2.2},{"gene":"E2f","sub":"Vascular Endothelium","z":-2.8},{"gene":"CSF2","sub":"Vascular Endothelium","z":-4.2}
]},"mark":{"type":"rect","invalid":"show"},"encoding":{
"x":{"field":"gene","type":"nominal","sort":null,"scale":{"type":"band","range":[404.7,700],"paddingInner":0.09,"paddingOuter":0},"axis":{"orient":"bottom","offset":-326.7,"domain":false,"ticks":false,"labelAngle":-60,"labelAlign":"right","labelBaseline":"middle","labelFontSize":7,"labelFontStyle":"italic","labelPadding":5,"title":null}},
"y":{"field":"sub","type":"nominal","sort":null,"scale":{"type":"band","range":[558,633.3],"paddingInner":0.09,"paddingOuter":0},"axis":{"orient":"left","offset":-404.7,"domain":false,"ticks":false,"labelAngle":-30,"labelAlign":"right","labelBaseline":"middle","labelFontSize":6.8,"labelLineHeight":8,"labelPadding":3,"labelExpr":"indexof(datum.label,'Endothelium')>=0?split(datum.label,' '):datum.label","encode":{"labels":{"update":{"dy":{"signal":"indexof(datum.label,'Endothelium')>=0?-4:0"}}}},"title":"Subclusters","titleX":-53.7,"titleY":604,"titleFontSize":11}},
"color":{"condition":{"test":"!isValid(datum.z)","value":"#c0c0c0"},"field":"z","type":"quantitative","scale":{"domain":[-7,0,7],"range":["#3953a4","#ffffff","#ed1c24"],"interpolate":"rgb"},"legend":{"orient":"none","legendX":604.3,"legendY":666.7,"direction":"horizontal","type":"gradient","values":[-7,0,7],"format":"d","gradientLength":73.4,"gradientThickness":12.3,"title":"Z-Score","titleOrient":"bottom","titleAnchor":"middle","titleFontSize":8.5,"labelFontSize":8.5,"titlePadding":3,"labelOffset":3}}}},
{"encoding":{"x":{"field":"x","type":"quantitative","scale":{"domain":[0,25],"range":[37.7,334.7],"nice":false,"zero":false},"axis":null},"y":{"field":"y","type":"quantitative","scale":{"domain":[0,1],"range":[766.3,738.7],"nice":false,"zero":false},"axis":null}},
"layer":[
{"data":{"values":[{"g":"down","x":0,"x2":18,"y":0,"y2":1},{"g":"up","x":18.1,"x2":25,"y":0,"y2":1}]},"mark":{"type":"rect"},"encoding":{"x2":{"field":"x2"},"y2":{"field":"y2"},"color":{"field":"g","type":"nominal","scale":{"domain":["down","up"],"range":["#00aeef","#ed1c24"]},"legend":null}}},
{"data":{"values":[{"t":"Expected to be|Downregulated by TP53","x":9.85,"y":0.746},{"t":"Expected to be|Upregulated by TP53","x":21.55,"y":0.746}]},"mark":{"type":"text","fontSize":7.4,"lineBreak":"|","lineHeight":12,"color":"#222"},"encoding":{"text":{"field":"t","type":"nominal"}}},
{"data":{"values":[{"t":"F","x":-2.75,"y":1.58}]},"mark":{"type":"text","fontSize":15.5,"fontWeight":"bold","align":"left","color":"#000"},"encoding":{"text":{"field":"t","type":"nominal"}}}
]},
{"data":{"values":[{"gene":"Hspd1","row":"TP53","z":-0.72},{"gene":"Cks2","row":"TP53","z":-0.72},{"gene":"Canpf","row":"TP53","z":-0.7},{"gene":"Ybx1","row":"TP53","z":-0.62},{"gene":"Tkt","row":"TP53","z":-0.6},{"gene":"Tpx2","row":"TP53","z":-0.58},{"gene":"Cks1b","row":"TP53","z":-0.55},{"gene":"Vdac3","row":"TP53","z":-0.52},{"gene":"Slc25a4","row":"TP53","z":-0.5},{"gene":"Cenpe","row":"TP53","z":-0.42},{"gene":"Cdc20","row":"TP53","z":-0.4},{"gene":"Mcm5","row":"TP53","z":-0.38},{"gene":"Rrm2","row":"TP53","z":-0.36},{"gene":"Pbk","row":"TP53","z":-0.35},{"gene":"Hmmr","row":"TP53","z":-0.33},{"gene":"Ccnb1","row":"TP53","z":-0.3},{"gene":"Prim1","row":"TP53","z":-0.28},{"gene":"Tmem97","row":"TP53","z":-0.3},{"gene":"App","row":"TP53","z":0.3},{"gene":"Pecam1","row":"TP53","z":0.35},{"gene":"Apbb2","row":"TP53","z":0.4},{"gene":"Rhob","row":"TP53","z":0.47},{"gene":"Dlc1","row":"TP53","z":0.55},{"gene":"Snrk","row":"TP53","z":0.7},{"gene":"Fbln2","row":"TP53","z":0.8}]},
"mark":{"type":"rect"},"encoding":{
"x":{"field":"gene","type":"nominal","sort":null,"scale":{"type":"band","range":[37.7,334.7],"paddingInner":0.06,"paddingOuter":0},"axis":{"orient":"bottom","offset":-180.3,"domain":false,"ticks":false,"labelAngle":-60,"labelAlign":"right","labelBaseline":"middle","labelFontSize":8,"labelFontStyle":"italic","labelPadding":3,"title":null}},
"y":{"field":"row","type":"nominal","scale":{"type":"band","range":[767,779.7],"paddingInner":0,"paddingOuter":0},"axis":{"orient":"left","offset":-37.7,"domain":false,"ticks":false,"labelAngle":-30,"labelAlign":"right","labelBaseline":"middle","labelFontSize":8.5,"labelPadding":2,"title":null}},
"color":{"field":"z","type":"quantitative","scale":{"domain":[-1,0,1],"range":["#3953a4","#ffffff","#ed1c24"],"interpolate":"rgb"},"legend":{"orient":"none","legendX":219,"legendY":827.3,"direction":"horizontal","type":"gradient","values":[-1,0,1],"format":"d","gradientLength":74.7,"gradientThickness":12.7,"title":"Z-Score","titleOrient":"bottom","titleAnchor":"middle","titleFontSize":8.5,"labelFontSize":8.5,"titlePadding":3,"labelOffset":3}}}},
{"encoding":{"x":{"field":"x","type":"quantitative","scale":{"domain":[0,10],"range":[37.3,155],"nice":false,"zero":false},"axis":null},"y":{"field":"y","type":"quantitative","scale":{"domain":[0,1],"range":[840.3,813.3],"nice":false,"zero":false},"axis":null}},
"layer":[
{"data":{"values":[{"x":0,"x2":10,"y":0,"y2":1}]},"mark":{"type":"rect","color":"#00aeef"},"encoding":{"x2":{"field":"x2"},"y2":{"field":"y2"}}},
{"data":{"values":[{"t":"Expected to be|Downregulated by Cdkn1a","x":5.18,"y":0.74}]},"mark":{"type":"text","fontSize":7.4,"lineBreak":"|","lineHeight":12,"color":"#222"},"encoding":{"text":{"field":"t","type":"nominal"}}}
]},
{"data":{"values":[{"gene":"Ube2c","row":"Cdkn1a","z":-0.9},{"gene":"Stmn1","row":"Cdkn1a","z":-0.85},{"gene":"Vim","row":"Cdkn1a","z":-0.9},{"gene":"Birc5","row":"Cdkn1a","z":-0.88},{"gene":"Top2a","row":"Cdkn1a","z":-0.85},{"gene":"Cdk1","row":"Cdkn1a","z":-0.9},{"gene":"Pcaif","row":"Cdkn1a","z":-0.9},{"gene":"Ybx1","row":"Cdkn1a","z":-0.6},{"gene":"Mcm5","row":"Cdkn1a","z":-0.32},{"gene":"Ccnb1","row":"Cdkn1a","z":-0.28}]},
"mark":{"type":"rect"},"encoding":{
"x":{"field":"gene","type":"nominal","sort":null,"scale":{"type":"band","range":[37.3,155],"paddingInner":0.06,"paddingOuter":0},"axis":{"orient":"bottom","offset":-106.7,"domain":false,"ticks":false,"labelAngle":-60,"labelAlign":"right","labelBaseline":"middle","labelFontSize":8,"labelFontStyle":"italic","labelPadding":3,"title":null}},
"y":{"field":"row","type":"nominal","scale":{"type":"band","range":[841.7,853.3],"paddingInner":0,"paddingOuter":0},"axis":{"orient":"left","offset":-37.3,"domain":false,"ticks":false,"labelAngle":-30,"labelAlign":"right","labelBaseline":"middle","labelFontSize":8.5,"labelPadding":2,"title":null}},
"color":{"field":"z","type":"quantitative","scale":{"domain":[-1,0,1],"range":["#3953a4","#ffffff","#ed1c24"],"interpolate":"rgb"},"legend":null}}},
{"encoding":{"x":{"field":"x","type":"quantitative","scale":{"domain":[0,11],"range":[36.7,169.3],"nice":false,"zero":false},"axis":null},"y":{"field":"y","type":"quantitative","scale":{"domain":[0,1],"range":[910.7,882.7],"nice":false,"zero":false},"axis":null}},
"layer":[
{"data":{"values":[{"x":0,"x2":11,"y":0,"y2":1}]},"mark":{"type":"rect","color":"#00aeef"},"encoding":{"x2":{"field":"x2"},"y2":{"field":"y2"}}},
{"data":{"values":[{"t":"Expected to be|Downregulated by Cdkn2a","x":5.17,"y":0.74}]},"mark":{"type":"text","fontSize":7.4,"lineBreak":"|","lineHeight":12,"color":"#222"},"encoding":{"text":{"field":"t","type":"nominal"}}}
]},
{"data":{"values":[{"gene":"Birc5","row":"Cdkn2a","z":-0.92},{"gene":"Npm1","row":"Cdkn2a","z":-0.92},{"gene":"Cdk1","row":"Cdkn2a","z":-0.92},{"gene":"Mki67","row":"Cdkn2a","z":-0.88},{"gene":"Eef1a1","row":"Cdkn2a","z":-0.5},{"gene":"Tk1","row":"Cdkn2a","z":-0.4},{"gene":"Rrm2","row":"Cdkn2a","z":-0.35},{"gene":"Asns","row":"Cdkn2a","z":-0.3},{"gene":"Fen1","row":"Cdkn2a","z":-0.28},{"gene":"Ccnb1","row":"Cdkn2a","z":-0.27},{"gene":"Tmem97","row":"Cdkn2a","z":-0.25}]},
"mark":{"type":"rect"},"encoding":{
"x":{"field":"gene","type":"nominal","sort":null,"scale":{"type":"band","range":[36.7,169.3],"paddingInner":0.06,"paddingOuter":0},"axis":{"orient":"bottom","offset":-35.7,"domain":false,"ticks":false,"labelAngle":-60,"labelAlign":"right","labelBaseline":"middle","labelFontSize":8,"labelFontStyle":"italic","labelPadding":3,"title":null}},
"y":{"field":"row","type":"nominal","scale":{"type":"band","range":[912.3,924.3],"paddingInner":0,"paddingOuter":0},"axis":{"orient":"left","offset":-36.7,"domain":false,"ticks":false,"labelAngle":-30,"labelAlign":"right","labelBaseline":"middle","labelFontSize":8.5,"labelPadding":2,"title":null}},
"color":{"field":"z","type":"quantitative","scale":{"domain":[-1,0,1],"range":["#3953a4","#ffffff","#ed1c24"],"interpolate":"rgb"},"legend":null}}},
{"encoding":{"x":{"field":"x","type":"quantitative","scale":{"domain":[-0.59,7.6],"range":[436.7,603.3],"nice":false,"zero":false},"axis":null},"y":{"field":"y","type":"quantitative","scale":{"domain":[0,1],"range":[828.7,767.7],"nice":false,"zero":false},"axis":null}},
"layer":[
{"data":{"values":[{"t":"Vascular Endothelium Senescence Markers","x":3.75,"y":1.372}]},"mark":{"type":"text","fontSize":12,"color":"#222"},"encoding":{"text":{"field":"t","type":"nominal"}}},
{"data":{"values":[{"t":"G","x":-5.25,"y":1.738}]},"mark":{"type":"text","fontSize":15.5,"fontWeight":"bold","align":"left","color":"#000"},"encoding":{"text":{"field":"t","type":"nominal"}}}
]},
{"data":{"values":[{"gene":"Cdkn2a","age":"9 mo","pct":9.6,"expr":1.3},{"gene":"Cdkn1a","age":"9 mo","pct":64,"expr":0.8},{"gene":"Cdkn2d","age":"9 mo","pct":15,"expr":0},{"gene":"Casp8","age":"9 mo","pct":64,"expr":1.1},{"gene":"Il1b","age":"9 mo","pct":1,"expr":-0.8},{"gene":"Glb1","age":"9 mo","pct":32,"expr":0.1},{"gene":"Serpine1","age":"9 mo","pct":5.4,"expr":1.2},{"gene":"Il6","age":"9 mo","pct":0.6,"expr":-1},{"gene":"Cdkn2a","age":"3 mo","pct":8,"expr":0.1},{"gene":"Cdkn1a","age":"3 mo","pct":52,"expr":0.2},{"gene":"Cdkn2d","age":"3 mo","pct":27,"expr":0.9},{"gene":"Casp8","age":"3 mo","pct":77,"expr":1.5},{"gene":"Il1b","age":"3 mo","pct":1.7,"expr":-0.9},{"gene":"Glb1","age":"3 mo","pct":42,"expr":0},{"gene":"Serpine1","age":"3 mo","pct":6.7,"expr":0.3},{"gene":"Il6","age":"3 mo","pct":1.7,"expr":-0.5}]},
"mark":{"type":"circle","opacity":1},"encoding":{
"x":{"field":"gene","type":"nominal","sort":null,"scale":{"type":"point","range":[436.7,603.3],"padding":0.6},"axis":{"orient":"bottom","offset":-131.3,"labelAngle":-60,"labelAlign":"right","labelBaseline":"middle","labelFontSize":10.5,"tickSize":4,"labelPadding":3,"title":"Genes","titleX":513.3,"titleY":57.3,"titleFontSize":11.5}},
"y":{"field":"age","type":"nominal","sort":null,"scale":{"type":"point","range":[767.7,828.7],"padding":0.6},"axis":{"orient":"left","offset":-436.7,"labelFontSize":11.5,"labelColor":"#111","tickSize":4,"labelPadding":2,"title":["Vascular","Endothelium"],"titleAngle":330,"titleX":-59,"titleY":798,"titleFontSize":9.5,"titleLineHeight":12}},
"size":{"field":"pct","type":"quantitative","scale":{"domain":[0,60],"range":[1,78],"zero":false},"legend":{"orient":"none","legendX":609,"legendY":757,"title":"% Expressed","type":"symbol","values":[0,20,40,60],"symbolFillColor":"#000","symbolStrokeColor":"#000","symbolOpacity":1,"titleFontSize":9.5,"labelFontSize":8,"rowPadding":-2.5,"titlePadding":5,"labelOffset":6}},
"color":{"field":"expr","type":"quantitative","scale":{"domain":[-1.32,0,1,2.28],"range":["#dcdce4","#b9a3d3","#6f58ad","#3953a4"],"interpolate":"rgb"},"legend":{"orient":"none","legendX":609,"legendY":815,"title":["Average Expression","(Normalized Log)"],"type":"gradient","values":[-1,0,1,2],"format":"d","gradientLength":60.3,"gradientThickness":12.3,"titleFontSize":9.5,"titleLineHeight":12.5,"labelFontSize":8,"titlePadding":7,"labelOffset":4}}}}
]}
